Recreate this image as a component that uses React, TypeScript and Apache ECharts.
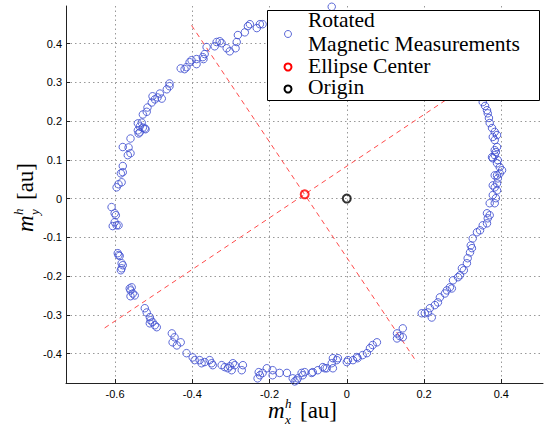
import React, { useEffect, useRef } from "react";
import * as echarts from "echarts";

// Axis extents and tick positions
const xRange = [-0.727, 0.508];
const yRange = [-0.476, 0.497];
const xTicks = [-0.6, -0.4, -0.2, 0, 0.2, 0.4];
const yTicks = [-0.4, -0.3, -0.2, -0.1, 0, 0.1, 0.2, 0.3, 0.4];

// Rotated magnetometer samples [m_x^h, m_y^h], grouped by arc of the ellipse
const leftArc: [number, number][] = [
  [-0.415, -0.399], [-0.43, -0.371], [-0.44, -0.379], [-0.451, -0.371], [-0.446, -0.358], [-0.453, -0.348],
  [-0.492, -0.332], [-0.497, -0.327], [-0.503, -0.319], [-0.51, -0.322], [-0.508, -0.314], [-0.51, -0.306],
  [-0.518, -0.294], [-0.523, -0.283],
  [-0.549, -0.25], [-0.56, -0.252], [-0.554, -0.245], [-0.56, -0.237], [-0.557, -0.229], [-0.562, -0.232],
  [-0.585, -0.185], [-0.583, -0.18], [-0.58, -0.172], [-0.583, -0.167], [-0.588, -0.148], [-0.591, -0.146],
  [-0.593, -0.141],
  [-0.591, -0.069], [-0.596, -0.069], [-0.606, -0.071], [-0.601, -0.061], [-0.598, -0.043], [-0.601, -0.038],
  [-0.609, -0.022],
  [-0.596, 0.029], [-0.591, 0.037], [-0.583, 0.042], [-0.585, 0.065], [-0.58, 0.068], [-0.58, 0.084],
  [-0.567, 0.112], [-0.56, 0.117], [-0.565, 0.132], [-0.58, 0.133], [-0.56, 0.155],
  [-0.541, 0.176], [-0.536, 0.171], [-0.523, 0.181], [-0.536, 0.186], [-0.541, 0.194], [-0.531, 0.196],
  [-0.539, 0.168], [-0.528, 0.183], [-0.521, 0.179],
  [-0.528, 0.217], [-0.518, 0.224], [-0.516, 0.235], [-0.505, 0.248], [-0.497, 0.256], [-0.503, 0.264],
  [-0.49, 0.261], [-0.484, 0.271], [-0.479, 0.258], [-0.466, 0.282], [-0.459, 0.29], [-0.459, 0.297],
];

const topArc: [number, number][] = [
  [-0.43, 0.336], [-0.42, 0.334], [-0.415, 0.339], [-0.407, 0.352], [-0.402, 0.357], [-0.389, 0.36],
  [-0.389, 0.347], [-0.373, 0.365], [-0.368, 0.373], [-0.371, 0.36], [-0.363, 0.391], [-0.342, 0.393],
  [-0.337, 0.404], [-0.329, 0.406], [-0.324, 0.401], [-0.311, 0.388], [-0.303, 0.38], [-0.288, 0.388],
  [-0.285, 0.404], [-0.282, 0.422], [-0.264, 0.429], [-0.256, 0.445], [-0.251, 0.45], [-0.233, 0.44],
  [-0.225, 0.45], [-0.218, 0.45], [-0.039, 0.495],
];

const bottomArc: [number, number][] = [
  [-0.399, -0.41], [-0.394, -0.417], [-0.381, -0.417], [-0.376, -0.425], [-0.368, -0.422], [-0.355, -0.417],
  [-0.35, -0.425], [-0.347, -0.43], [-0.324, -0.43], [-0.316, -0.435], [-0.308, -0.438], [-0.303, -0.433],
  [-0.298, -0.443], [-0.295, -0.425], [-0.29, -0.43], [-0.272, -0.443], [-0.269, -0.43],
  [-0.231, -0.464], [-0.225, -0.456], [-0.228, -0.448], [-0.218, -0.45], [-0.207, -0.438], [-0.192, -0.443],
  [-0.192, -0.456], [-0.174, -0.45], [-0.155, -0.45], [-0.14, -0.464], [-0.135, -0.472], [-0.13, -0.469],
  [-0.127, -0.464], [-0.117, -0.45], [-0.114, -0.456], [-0.109, -0.448], [-0.091, -0.45], [-0.088, -0.448],
  [-0.075, -0.443], [-0.062, -0.435], [-0.057, -0.438], [-0.052, -0.438], [-0.039, -0.425], [-0.036, -0.438],
  [-0.036, -0.412], [-0.026, -0.417], [-0.023, -0.412], [0.0, -0.422], [0.003, -0.417], [0.016, -0.417],
  [0.026, -0.409], [0.028, -0.412], [0.041, -0.404], [0.052, -0.399], [0.06, -0.386], [0.067, -0.378],
  [0.078, -0.371],
  [0.13, -0.348], [0.145, -0.335], [0.145, -0.358], [0.13, -0.361], [0.137, -0.355],
];

const rightArc: [number, number][] = [
  [0.194, -0.296], [0.202, -0.296], [0.21, -0.294], [0.22, -0.307], [0.215, -0.283], [0.228, -0.275],
  [0.236, -0.268], [0.241, -0.255], [0.254, -0.245], [0.259, -0.237], [0.267, -0.229], [0.272, -0.232],
  [0.275, -0.211], [0.288, -0.203], [0.293, -0.198], [0.298, -0.18], [0.303, -0.185], [0.311, -0.167],
  [0.313, -0.154], [0.319, -0.139], [0.324, -0.128], [0.321, -0.121], [0.326, -0.103], [0.337, -0.087],
  [0.345, -0.082], [0.352, -0.069], [0.363, -0.064], [0.365, -0.051], [0.37, -0.043], [0.363, -0.038],
  [0.37, -0.012], [0.383, -0.012], [0.386, 0.001], [0.378, 0.009], [0.389, 0.021], [0.383, 0.029],
  [0.389, 0.039], [0.378, 0.034], [0.391, 0.052], [0.396, 0.065], [0.389, 0.06], [0.383, 0.06],
  [0.402, 0.073], [0.396, 0.081], [0.389, 0.091], [0.391, 0.099], [0.378, 0.104], [0.383, 0.112],
  [0.376, 0.107], [0.386, 0.12], [0.389, 0.133], [0.383, 0.125], [0.383, 0.151], [0.378, 0.159],
  [0.389, 0.164], [0.383, 0.172], [0.376, 0.182], [0.37, 0.195], [0.368, 0.208], [0.365, 0.22],
  [0.363, 0.228], [0.358, 0.239], [0.352, 0.249],
];

// Fitted ellipse: centre, origin and the two principal axes
const ellipseCenter: [number, number] = [-0.109, 0.011];
const originPoint: [number, number] = [0, 0];
const axisLineA: [number, number][] = [[-0.402, 0.447], [0.181, -0.422]];
const axisLineB: [number, number][] = [[-0.627, -0.334], [0.409, 0.356]];

const legendLines = ["Rotated", "Magnetic Measurements", "Ellipse Center", "Origin"];

const SERIF = "Liberation Serif";
const BLUE = "#3f4fd0";
const TOP = 200;

function serifText(text: string, x: number, y: number, size: number, italic: boolean, lineHeight: number) {
  return {
    type: "text",
    x,
    y,
    z: TOP,
    style: {
      text,
      fontFamily: SERIF,
      fontSize: size,
      fontStyle: italic ? "italic" : "normal",
      lineHeight,
      fill: "#000",
      textAlign: "left",
      textVerticalAlign: "middle",
    },
  };
}

// m^h_sub [au] built from separate text pieces, laid out around a baseline at y = 0
function mathLabel(sub: string) {
  return [
    serifText("m", -37, -7.5, 23, true, 20),
    serifText("h", -20, -15, 13, true, 12),
    serifText(sub, -20, 1, 13, true, 12),
    serifText("[au]", -5, -7.5, 23, false, 22),
  ];
}

export default function App() {
  const ref = useRef<HTMLDivElement>(null);

  useEffect(() => {
    if (!ref.current) return;
    const chart = echarts.init(ref.current, null, { renderer: "svg" });

    const tickLabel = { fontFamily: "Liberation Sans", fontSize: 11, color: "#000" };
    const gridLine = { show: true, lineStyle: { color: "#999", type: [1.5, 3] as any, width: 1 } };
    const fmt = (v: number) => String(Math.round(v * 10) / 10);

    const legendX = 288;
    const textX = 308;
    const legendSize = 21.5;

    chart.setOption({
      animation: false,
      backgroundColor: "#fff",
      grid: { left: 66, right: 9, top: 6, bottom: 47, containLabel: false },
      xAxis: {
        type: "value",
        min: xRange[0],
        max: xRange[1],
        axisLine: { show: true, onZero: false, lineStyle: { color: "#222", width: 1 } },
        axisTick: { show: true, inside: true, length: 4, customValues: xTicks, lineStyle: { color: "#222" } },
        axisLabel: { ...tickLabel, margin: 5, customValues: xTicks, formatter: fmt },
        splitLine: gridLine,
      },
      yAxis: {
        type: "value",
        min: yRange[0],
        max: yRange[1],
        axisLine: { show: true, onZero: false, lineStyle: { color: "#222", width: 1 } },
        axisTick: { show: true, inside: true, length: 4, customValues: yTicks, lineStyle: { color: "#222" } },
        axisLabel: { ...tickLabel, margin: 4, customValues: yTicks, formatter: fmt },
        splitLine: gridLine,
      },
      series: [
        {
          type: "line",
          data: axisLineA,
          symbol: "none",
          lineStyle: { color: "#ff4a4a", width: 1, type: [5, 4] as any },
          z: 1,
        },
        {
          type: "line",
          data: axisLineB,
          symbol: "none",
          lineStyle: { color: "#ff4a4a", width: 1, type: [5, 4] as any },
          z: 1,
        },
        {
          name: "Rotated Magnetic Measurements",
          type: "scatter",
          data: [...leftArc, ...topArc, ...bottomArc, ...rightArc],
          symbol: "circle",
          symbolSize: 7.5,
          itemStyle: { color: "rgba(0,0,0,0)", borderColor: BLUE, borderWidth: 1, opacity: 0.85 },
          z: 2,
        },
        {
          name: "Ellipse Center",
          type: "scatter",
          data: [ellipseCenter],
          symbolSize: 8,
          itemStyle: { color: "rgba(0,0,0,0)", borderColor: "#ff0000", borderWidth: 2 },
          z: 3,
        },
        {
          name: "Origin",
          type: "scatter",
          data: [originPoint],
          symbolSize: 8,
          itemStyle: { color: "rgba(0,0,0,0)", borderColor: "#000", borderWidth: 2 },
          z: 3,
        },
      ],
      graphic: {
        elements: [
          {
            type: "rect",
            z: TOP,
            shape: { x: 267.5, y: 10.5, width: 272, height: 90 },
            style: { fill: "#fff", stroke: "#000", lineWidth: 1 },
          },
          { type: "circle", z: TOP, shape: { cx: legendX, cy: 34, r: 3.5 }, style: { fill: "none", stroke: BLUE, lineWidth: 1, opacity: 0.85 } },
          { type: "circle", z: TOP, shape: { cx: legendX, cy: 67, r: 3.5 }, style: { fill: "none", stroke: "#ff0000", lineWidth: 2 } },
          { type: "circle", z: TOP, shape: { cx: legendX, cy: 89, r: 3.5 }, style: { fill: "none", stroke: "#000", lineWidth: 2 } },
          serifText(legendLines[0], textX, 19.5, legendSize, false, 18),
          serifText(legendLines[1], textX, 44, legendSize, false, 18),
          serifText(legendLines[2], textX, 65.6, legendSize, false, 18),
          serifText(legendLines[3], textX, 87.2, legendSize, false, 18),
          { type: "group", x: 305, y: 418, z: TOP, children: mathLabel("x") },
          { type: "group", x: 33, y: 195, rotation: Math.PI / 2, z: TOP, children: mathLabel("y") },
        ],
      },
    });

    return () => chart.dispose();
  }, []);

  return <div ref={ref} style={{ position: "fixed", left: 0, top: 0, width: 552, height: 430 }} />;
}
